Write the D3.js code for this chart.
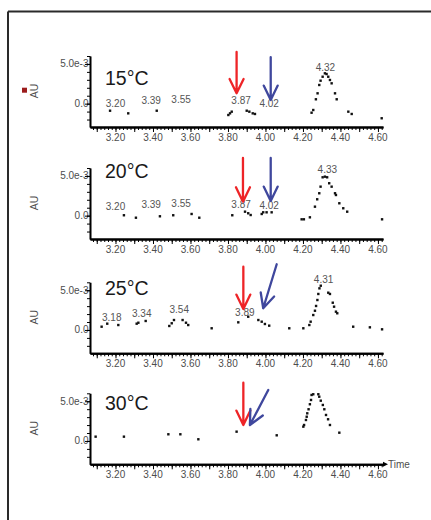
<!DOCTYPE html>
<html>
<head>
<meta charset="utf-8">
<script src="https://cdn.jsdelivr.net/npm/d3@7"></script>
<style>
  html, body { margin: 0; padding: 0; background: #fff; }
  svg { display: block; font-family: "Liberation Sans", Arial, sans-serif; }
</style>
</head>
<body>
<svg id="chart" width="431" height="520"></svg>
<script>
// ---------------- DATA ----------------
const temperatures = ["15°C", "20°C", "25°C", "30°C"];
const xTickValues = [3.20, 3.40, 3.60, 3.80, 4.00, 4.20, 4.40, 4.60];
const yTickValues = [0, 5];            // in units of 1e-3 AU
const yTickLabels = ["0.0", "5.0e-3"];

// chromatogram samples (time in min, absorbance in 1e-3 AU)
const t15 = [3.171, 3.268, 3.420, 3.802, 3.811, 3.820, 3.900, 3.914, 3.932, 3.944,
             4.246, 4.255, 4.269, 4.278, 4.287, 4.294, 4.305, 4.317, 4.326, 4.335, 4.344, 4.353, 4.371, 4.380,
             4.442, 4.460, 4.620];
const v15 = [-0.89, -1.22, -0.89, -1.43, -1.22, -1.01, -0.89, -1.01, -1.22, -1.30,
             -1.14, -0.80, 0.55, 1.30, 2.35, 2.89, 3.39, 3.82, 3.73, 3.39, 2.98, 2.56, 1.30, 0.55,
             -1.01, -1.30, -1.84];

const t20 = [3.245, 3.309, 3.437, 3.508, 3.606, 3.647, 3.823, 3.891, 3.908, 3.921, 3.980, 3.988, 4.006, 4.033,
             4.193, 4.205, 4.237, 4.264, 4.276, 4.287, 4.294, 4.305, 4.317, 4.329, 4.340, 4.353, 4.371, 4.376,
             4.394, 4.415, 4.436, 4.622];
const v20 = [0.05, -0.26, -0.08, 0.05, 0.21, -0.26, 0.05, 0.50, 0.30, 0.08, 0.21, 0.42, 0.42, 0.42,
             -0.46, -0.46, -0.21, 1.13, 2.06, 2.82, 3.65, 4.83, 4.91, 4.83, 4.08, 3.65, 2.82, 2.60,
             1.56, 0.93, 0.50, -0.46];

const t25 = [3.126, 3.156, 3.215, 3.313, 3.322, 3.361, 3.487, 3.500, 3.512, 3.558, 3.576, 3.588, 3.713,
             3.855, 3.908, 3.962, 3.980, 3.997, 4.020, 4.127, 4.202,
             4.234, 4.241, 4.255, 4.264, 4.270, 4.277, 4.282, 4.288, 4.295, 4.335, 4.344, 4.359, 4.366, 4.376, 4.383,
             4.468, 4.557, 4.622];
const v25 = [0.41, 0.79, 0.62, 0.79, 0.91, 1.13, 0.50, 0.84, 1.25, 1.25, 0.91, 0.62, 0.21,
             0.96, 1.67, 1.25, 1.04, 0.75, 0.54, 0.21, 0.21,
             0.62, 1.04, 1.88, 2.42, 3.02, 3.77, 4.53, 5.24, 5.57, 4.69, 4.53, 3.43, 2.93, 2.30, 2.10,
             0.41, 0.33, 0.08];

const t30 = [3.094, 3.245, 3.482, 3.546, 3.642, 3.846, 4.060,
             4.202, 4.206, 4.216, 4.220, 4.223, 4.230, 4.237, 4.243, 4.246, 4.255, 4.282, 4.287, 4.295,
             4.306, 4.314, 4.323, 4.334, 4.344, 4.394];
const v30 = [0.54, 0.54, 0.84, 0.84, 0.21, 1.17, 0.71,
             1.80, 2.01, 2.64, 3.05, 3.48, 3.99, 4.62, 5.16, 5.79, 5.88, 5.88, 5.57, 5.07,
             4.53, 3.99, 3.27, 2.73, 2.01, 1.04];

// peak retention-time labels and the height (1e-3 AU) of their baseline
const peakLabels15 = ["3.20", "3.39", "3.55", "3.87", "4.02", "4.32"];
const peakLabelV15 = [-0.42, -0.04, 0.05, -0.08, -0.38, 4.11];
const peakLabels20 = ["3.20", "3.39", "3.55", "3.87", "4.02", "4.33"];
const peakLabelV20 = [0.71, 1.00, 1.05, 1.00, 0.84, 5.33];
const peakLabels25 = ["3.18", "3.34", "3.54", "3.89", "4.31"];
const peakLabelV25 = [1.13, 1.67, 2.17, 1.80, 5.88];
const peakLabels30 = [];
const peakLabelV30 = [];

// annotation arrows (time, 1e-3 AU)
const redArrowT    = [3.846, 3.880, 3.882, 3.882];
const redArrowTipV = [1.30, 1.76, 2.64, 2.01];
const redArrowTailV= [6.51, 7.26, 7.97, 7.34];
const blueTailT = [4.028, 4.028, 4.060, 4.015];
const blueTailV = [5.84, 7.26, 8.27, 6.42];
const blueTipT  = [4.028, 4.028, 3.988, 3.917];
const blueTipV  = [0.46, 1.85, 2.73, 2.01];

// ---------------- LAYOUT ----------------
const svg = d3.select("#chart");
const axisYs = [127, 239, 353.3, 464.3];
const tempBaseline = [-42, -61, -58, -54];
const plotH = 71;
const panels = [
  {t: t15, v: v15, labels: peakLabels15, lv: peakLabelV15},
  {t: t20, v: v20, labels: peakLabels20, lv: peakLabelV20},
  {t: t25, v: v25, labels: peakLabels25, lv: peakLabelV25},
  {t: t30, v: v30, labels: peakLabels30, lv: peakLabelV30}
];
const textGrey = "#4d4d4d";
const RED = "#ee2427", BLUE = "#3f479d";

// page frame
svg.append("line").attr("x1", 8).attr("x2", 431).attr("y1", 11.5).attr("y2", 11.5)
  .attr("stroke", "#2a2a2a").attr("stroke-width", 2);
svg.append("line").attr("x1", 8).attr("x2", 8).attr("y1", 11.5).attr("y2", 520)
  .attr("stroke", "#2a2a2a").attr("stroke-width", 2);

const x = d3.scaleLinear().domain([3.064, 4.627]).range([90, 383]);

function arrow(g, x1, y1, x2, y2, color) {
  // from tail (x1,y1) to tip (x2,y2)
  const ang = Math.atan2(y1 - y2, x1 - x2);
  const L = 16, a = 26 * Math.PI / 180;
  const w1 = [x2 + L * Math.cos(ang + a), y2 + L * Math.sin(ang + a)];
  const w2 = [x2 + L * Math.cos(ang - a), y2 + L * Math.sin(ang - a)];
  const p = d3.path();
  p.moveTo(x1, y1); p.lineTo(x2, y2);
  p.moveTo(w1[0], w1[1]); p.lineTo(x2, y2); p.lineTo(w2[0], w2[1]);
  g.append("path").attr("d", p.toString()).attr("fill", "none")
    .attr("stroke", color).attr("stroke-width", 2.3)
    .attr("stroke-linecap", "round").attr("stroke-linejoin", "round");
}

panels.forEach((P, i) => {
  const ay = axisYs[i];
  const y = d3.scaleLinear().domain([-2.94, 6.0]).range([ay, ay - plotH]);
  const g = svg.append("g");

  // y label
  g.append("text").attr("transform", `translate(38,${ay - 36}) rotate(-90)`)
    .attr("text-anchor", "middle").attr("font-size", 10.5).attr("fill", textGrey).text("AU");

  // y tick labels
  yTickValues.forEach((d, k) => {
    g.append("text").attr("x", 88.5).attr("y", y(d)).attr("dy", "0.35em")
      .attr("text-anchor", "end").attr("font-size", 10).attr("fill", textGrey).text(yTickLabels[k]);
  });

  // y axis (minor + major)
  const yMinor = g.append("g").attr("transform", "translate(90,0)")
    .call(d3.axisLeft(y).tickValues(d3.range(-2, 7, 1)).tickSize(3).tickSizeOuter(0).tickFormat(""));
  const yMajor = g.append("g").attr("transform", "translate(90,0)")
    .call(d3.axisLeft(y).tickValues(yTickValues).tickSize(5).tickSizeOuter(0).tickFormat(""));
  [yMinor, yMajor].forEach(s => {
    s.select(".domain").attr("stroke", "#000").attr("stroke-width", 1.6);
    s.selectAll(".tick line").attr("stroke", "#000").attr("stroke-width", 1);
  });

  // x axis
  const minorVals = d3.range(3.08, 4.621, 0.02);
  const xMinor = g.append("g").attr("transform", `translate(0,${ay})`)
    .call(d3.axisBottom(x).tickValues(minorVals).tickSize(3).tickSizeOuter(0).tickFormat(""));
  const xMajor = g.append("g").attr("transform", `translate(0,${ay})`)
    .call(d3.axisBottom(x).tickValues(d3.range(3.1, 4.61, 0.1)).tickSize(5).tickSizeOuter(0).tickFormat(""));
  [xMinor, xMajor].forEach(s => {
    s.select(".domain").attr("stroke", "#000").attr("stroke-width", 2);
    s.selectAll(".tick line").attr("stroke", "#000").attr("stroke-width", 1);
  });
  g.selectAll(null).data(xTickValues).enter().append("text")
    .attr("x", d => x(d)).attr("y", ay + 13.7).attr("text-anchor", "middle")
    .attr("font-size", 10).attr("fill", textGrey).text(d => d.toFixed(2));

  // temperature
  g.append("text").attr("x", 105).attr("y", ay + tempBaseline[i])
    .attr("font-size", 19.5).attr("fill", "#1a1a1a").text(temperatures[i]);

  // data points
  g.selectAll(null).data(P.t.map((t, k) => [t, P.v[k]])).enter().append("rect")
    .attr("x", d => x(d[0]) - 1.2).attr("y", d => y(d[1]) - 1.2)
    .attr("width", 2.4).attr("height", 2.4).attr("fill", "#111");

  // peak labels
  g.selectAll(null).data(P.labels.map((s, k) => [s, P.lv[k]])).enter().append("text")
    .attr("x", d => x(+d[0])).attr("y", d => y(d[1])).attr("text-anchor", "middle")
    .attr("font-size", 10).attr("fill", "#555").text(d => d[0]);

  // arrows
  arrow(g, x(redArrowT[i]), y(redArrowTailV[i]), x(redArrowT[i]), y(redArrowTipV[i]), RED);
  arrow(g, x(blueTailT[i]), y(blueTailV[i]), x(blueTipT[i]), y(blueTipV[i]), BLUE);

  if (i === 3) {
    const xe = x.range()[1];
    g.append("path").attr("d", `M${xe},${ay - 2.5}L${xe + 5},${ay}L${xe},${ay + 2.5}Z`).attr("fill", "#000");
    g.append("text").attr("x", 388).attr("y", ay).attr("dy", "0.35em")
      .attr("font-size", 10).attr("fill", textGrey).text("Time");
  }
});

// small marker near first AU label
svg.append("rect").attr("x", 22).attr("y", 87.7).attr("width", 5).attr("height", 5).attr("fill", "#9c1c1c");
</script>
</body>
</html>
